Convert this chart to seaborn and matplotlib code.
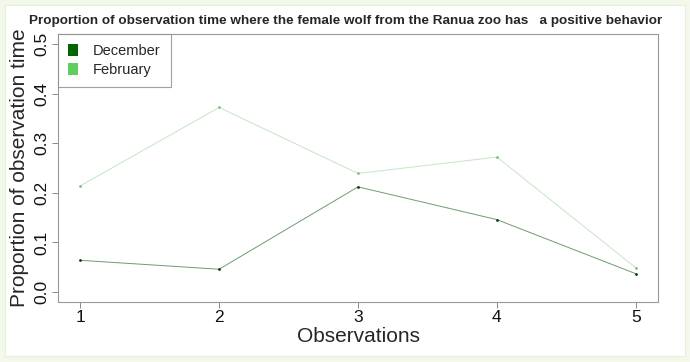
import matplotlib
matplotlib.use("Agg")
import matplotlib.pyplot as plt
import matplotlib.patches as mpatches
import seaborn as sns
import pandas as pd

observations = [1, 2, 3, 4, 5]
december = [0.064, 0.046, 0.212, 0.146, 0.037]
february = [0.214, 0.372, 0.239, 0.272, 0.049]
series_names = ["December", "February"]
y_ticks = [0.0, 0.1, 0.2, 0.3, 0.4, 0.5]

df = pd.DataFrame({
    "Observations": observations * 2,
    "value": december + february,
    "month": [series_names[0]] * 5 + [series_names[1]] * 5,
})

sns.set_theme(style="white")
plt.rcParams["font.family"] = ["Liberation Sans", "DejaVu Sans"]

line_colors = {"December": "#6f9c6f", "February": "#c4e6c4"}
dot_colors = {"December": "#0b3d0b", "February": "#7fbf7f"}
leg_colors = {"December": "#006400", "February": "#5fce5f"}

fig = plt.figure(figsize=(6.9, 3.62), dpi=100)
fig.patch.set_facecolor("#f2f8ea")
bg = mpatches.Rectangle((5/690, 6/362), 680/690, 351/362,
                        transform=fig.transFigure, facecolor="white",
                        edgecolor="#e6f0dc", linewidth=0.8, zorder=-10)
fig.add_artist(bg)
ax = fig.add_axes([58/690, 1 - 302/362, 600/690, 268/362])
ax.set_zorder(1)
ax.set_facecolor("white")

sns.lineplot(data=df, x="Observations", y="value", hue="month",
             palette=line_colors, linewidth=0.7, legend=False, ax=ax)
for name in series_names:
    sub = df[df["month"] == name]
    ax.scatter(sub["Observations"], sub["value"], s=4, color=dot_colors[name], zorder=3, linewidths=0)

ax.set_xlim(0.84, 5.16)
ax.set_ylim(-0.02, 0.52)
ax.set_xticks(observations)
ax.set_yticks(y_ticks)
ax.set_yticklabels([f"{v:.1f}" for v in y_ticks], rotation=90, va="center")
ax.tick_params(axis="both", which="both", direction="out", length=4, width=0.6,
               color="#777777", labelsize=12.5, colors="#111111", left=True, bottom=True, pad=2)
for s in ax.spines.values():
    s.set_color("#999999")
    s.set_linewidth(0.8)

ax.set_xlabel("Observations", fontsize=15, labelpad=1)
ax.set_ylabel("Proportion of observation time", fontsize=15, labelpad=4)
ax.set_title("Proportion of observation time where the female wolf from the Ranua zoo has   a positive behavior",
             fontsize=9.7, fontweight="bold", pad=7, x=0.48)

handles = [mpatches.Patch(facecolor=leg_colors[n], edgecolor="none", label=n) for n in series_names]
leg = ax.legend(handles=handles, loc="upper left", bbox_to_anchor=(0, 1), frameon=True,
                fontsize=10.5, handlelength=0.7, handleheight=0.9, borderpad=0.7,
                labelspacing=0.3, handletextpad=1.0, fancybox=False, borderaxespad=0)
leg.get_frame().set_edgecolor("#888888")
leg.get_frame().set_linewidth(0.8)

fig.savefig("out.png", dpi=100, facecolor=fig.get_facecolor())
